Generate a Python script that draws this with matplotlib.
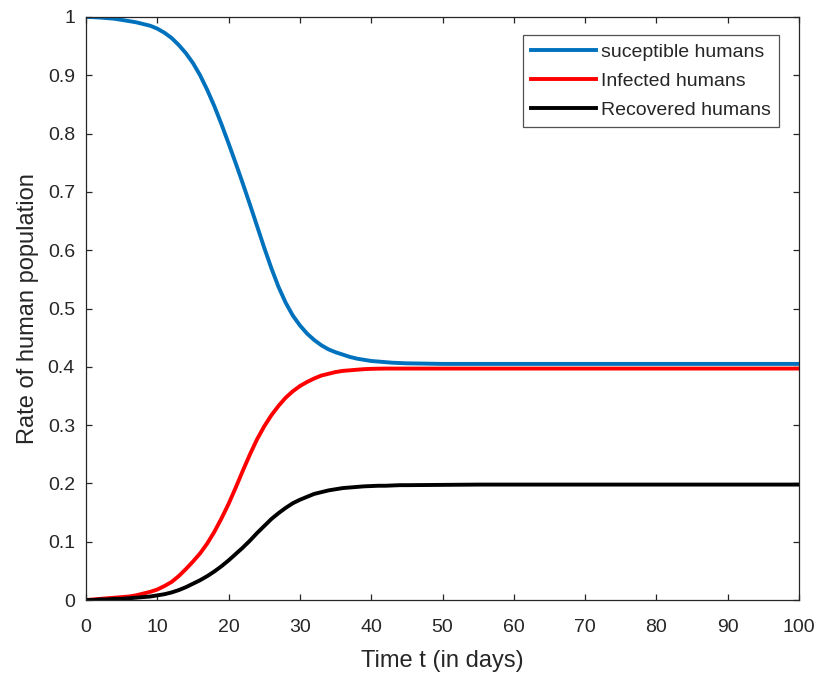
import matplotlib
matplotlib.use("Agg")
import matplotlib.pyplot as plt

# Time points (days): daily up to day 45, then every 5 days
t_days = list(range(0, 46)) + [50, 55, 60, 65, 70, 75, 80, 85, 90, 95, 100]

susceptible = [
    1.000, 0.9997, 0.999, 0.998, 0.997, 0.995, 0.993, 0.991, 0.988, 0.985,
    0.980, 0.973, 0.964, 0.952, 0.938, 0.921, 0.900, 0.875, 0.847, 0.816,
    0.783, 0.749, 0.714, 0.678, 0.641, 0.604, 0.569, 0.537, 0.510, 0.488,
    0.471, 0.457, 0.446, 0.437, 0.430, 0.425, 0.421, 0.417, 0.414, 0.412,
    0.410, 0.409, 0.408, 0.407, 0.4065, 0.406,
    0.405, 0.405, 0.405, 0.405, 0.405, 0.405, 0.405, 0.405, 0.405, 0.405, 0.405,
]
infected = [
    0.000, 0.001, 0.002, 0.003, 0.004, 0.005, 0.006, 0.008, 0.011, 0.014,
    0.018, 0.024, 0.031, 0.041, 0.053, 0.066, 0.080, 0.097, 0.117, 0.140,
    0.165, 0.193, 0.222, 0.250, 0.276, 0.298, 0.317, 0.333, 0.347, 0.358,
    0.367, 0.374, 0.380, 0.385, 0.388, 0.391, 0.393, 0.394, 0.395, 0.396,
    0.3965, 0.3968, 0.397, 0.397, 0.397, 0.397,
    0.397, 0.397, 0.397, 0.397, 0.397, 0.397, 0.397, 0.397, 0.397, 0.397, 0.397,
]
recovered = [
    0.000, 0.000, 0.001, 0.001, 0.002, 0.002, 0.003, 0.004, 0.005, 0.006,
    0.008, 0.010, 0.013, 0.017, 0.022, 0.028, 0.034, 0.041, 0.049, 0.058,
    0.068, 0.079, 0.090, 0.102, 0.115, 0.127, 0.139, 0.149, 0.158, 0.166,
    0.172, 0.177, 0.182, 0.185, 0.188, 0.190, 0.192, 0.193, 0.194, 0.195,
    0.1955, 0.196, 0.196, 0.1965, 0.197, 0.197,
    0.1975, 0.198, 0.198, 0.198, 0.198, 0.198, 0.198, 0.198, 0.198, 0.198, 0.198,
]

x_ticks = [0, 10, 20, 30, 40, 50, 60, 70, 80, 90, 100]
y_ticks = [0, 0.1, 0.2, 0.3, 0.4, 0.5, 0.6, 0.7, 0.8, 0.9, 1]
y_tick_labels = ["0", "0.1", "0.2", "0.3", "0.4", "0.5", "0.6", "0.7", "0.8", "0.9", "1"]

plt.rcParams["font.family"] = ["Liberation Sans", "DejaVu Sans"]
text_col = "#262626"

fig = plt.figure(figsize=(8.2, 6.77), dpi=100)
ax = fig.add_axes([0.1049, 0.1137, 0.8695, 0.8612])

ax.plot(t_days, susceptible, color="#0072BD", lw=2.8, label="suceptible humans")
ax.plot(t_days, infected, color="#FF0000", lw=2.8, label="Infected humans")
ax.plot(t_days, recovered, color="#000000", lw=2.8, label="Recovered humans")

ax.set_xlim(0, 100)
ax.set_ylim(0, 1)
ax.set_xticks(x_ticks)
ax.set_yticks(y_ticks)
ax.set_yticklabels(y_tick_labels)

ax.tick_params(direction="in", length=4.5, width=0.9, colors=text_col,
               labelsize=14, top=True, right=True)
ax.tick_params(axis="x", pad=13.5)
ax.tick_params(axis="y", pad=8)
for s in ax.spines.values():
    s.set_color(text_col)
    s.set_linewidth(0.9)

ax.set_xlabel("Time t (in days)", fontsize=17, color=text_col, labelpad=10)
ax.set_ylabel("Rate of human population", fontsize=17, color=text_col, labelpad=6)

leg = ax.legend(loc="upper right", bbox_to_anchor=(0.972, 0.969), fontsize=14,
                frameon=True, fancybox=False, edgecolor=text_col,
                handlelength=3.35, handletextpad=0.26, borderpad=0.42,
                labelspacing=0.58, borderaxespad=0.0)
leg.get_frame().set_linewidth(0.9)
for txt in leg.get_texts():
    txt.set_color(text_col)

fig.savefig("out.png", dpi=100, facecolor="white")
